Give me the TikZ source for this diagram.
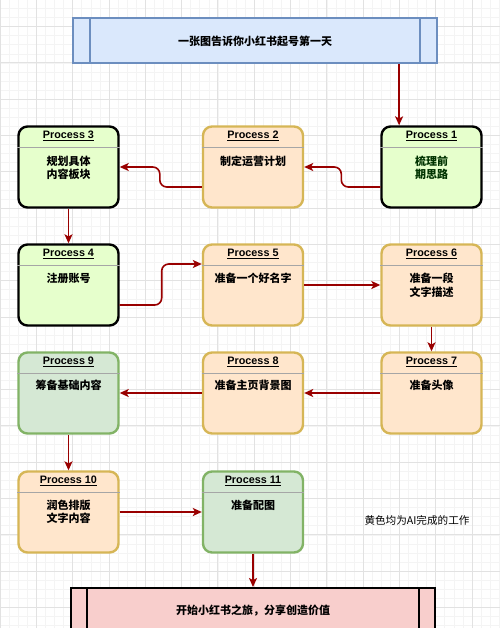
\documentclass[tikz,border=0pt]{standalone}
\usepackage{fontspec}
\setmainfont{Liberation Sans}
\newfontfamily\cjk{Noto Sans CJK SC}
\usetikzlibrary{arrows.meta,calc}
\definecolor{arrred}{HTML}{990000}
\definecolor{gfill}{HTML}{E6FFCC}
\definecolor{ofill}{HTML}{FFE6CC}
\definecolor{odraw}{HTML}{D6B656}
\definecolor{sfill}{HTML}{D5E8D4}
\definecolor{sdraw}{HTML}{82B366}
\definecolor{bfill}{HTML}{DAE8FC}
\definecolor{bdraw}{HTML}{6C8EBF}
\definecolor{pfill}{HTML}{F8CECC}
\definecolor{gridmaj}{HTML}{E2E2E2}
\definecolor{gridmin}{HTML}{F4F4F4}
\tikzset{
  pbox/.style={rounded corners=9pt, line width=2.4pt, minimum width=100pt, minimum height=81pt, inner sep=0pt},
  greenbox/.style={pbox, fill=gfill, draw=black},
  orangebox/.style={pbox, fill=ofill, draw=odraw},
  sagebox/.style={pbox, fill=sfill, draw=sdraw},
  head/.style={font=\bfseries\fontsize{10.8}{13}\selectfont, inner sep=0pt},
  body/.style={font=\cjk\bfseries\fontsize{11}{13.5}\selectfont, align=center, inner sep=0pt},
  divider/.style={draw=gray!70, line width=0.6pt},
  arr/.style={draw=arrred, line width=1.6pt, rounded corners=7pt, -{Stealth[length=9pt,width=8pt,inset=2.2pt]}},
  banner/.style={minimum width=364pt, minimum height=45pt, inner sep=0pt, line width=1.8pt},
}
\begin{document}
\begin{tikzpicture}[x=1pt,y=-1pt]
\clip (0,0) rectangle (500,628);
\fill[white] (0,0) rectangle (500,628);
% grid
\foreach \i in {0,...,55} \draw[gridmin, line width=0.4pt] (\i*9.075,0) -- (\i*9.075,628);
\foreach \j in {-3,...,68} \draw[gridmin, line width=0.4pt] (0,26.5+\j*9.075) -- (500,26.5+\j*9.075);
\foreach \i in {0,...,13} \draw[gridmaj, line width=0.8pt] (\i*36.3,0) -- (\i*36.3,628);
\foreach \j in {-1,...,17} \draw[gridmaj, line width=0.8pt] (0,26.5+\j*36.3) -- (500,26.5+\j*36.3);

% top banner
\node[banner, fill=bfill, draw=bdraw] (top) at (255,40.5) {};
\draw[bdraw, line width=1.8pt] ($(top.north west)+(18,0)$) -- ($(top.south west)+(18,0)$);
\draw[bdraw, line width=1.8pt] ($(top.north east)+(-18,0)$) -- ($(top.south east)+(-18,0)$);
\node[body] (toptext) at (255,41) {一张图告诉你小红书起号第一天};

% boxes
\node[greenbox] (p3) at (68.5,167) {};
\node[orangebox] (p2) at (253,167) {};
\node[greenbox] (p1) at (431.5,167) {};
\node[greenbox] (p4) at (68.5,285) {};
\node[orangebox] (p5) at (253,285) {};
\node[orangebox] (p6) at (431.5,285) {};
\node[sagebox] (p9) at (68.5,393) {};
\node[orangebox] (p8) at (253,393) {};
\node[orangebox] (p7) at (431.5,393) {};
\node[orangebox] (p10) at (68.5,512) {};
\node[sagebox] (p11) at (253,512) {};

% headers and dividers
\foreach \n/\t in {p1/1,p2/2,p3/3,p4/4,p5/5,p6/6,p7/7,p8/8,p9/9,p10/10,p11/11}{
  \node[head] (h\n) at ($(\n.north)+(0,10.5)$) {\underline{Process \t}};
  \draw[divider] ($(\n.north west)+(0,22)$) -- ($(\n.north east)+(0,22)$);
}

% body texts
\node[body, text=black!80!green] (t1) at ($(p1.north)+(0,42.5)$) {梳理前\\期思路};
\node[body] (t2) at ($(p2.north)+(0,36)$) {制定运营计划};
\node[body] (t3) at ($(p3.north)+(0,42.5)$) {规划具体\\内容板块};
\node[body] (t4) at ($(p4.north)+(0,35)$) {注册账号};
\node[body] (t5) at ($(p5.north)+(0,35)$) {准备一个好名字};
\node[body] (t6) at ($(p6.north)+(0,42)$) {准备一段\\文字描述};
\node[body] (t7) at ($(p7.north)+(0,34)$) {准备头像};
\node[body] (t8) at ($(p8.north)+(0,34)$) {准备主页背景图};
\node[body] (t9) at ($(p9.north)+(0,34)$) {筹备基础内容};
\node[body] (t10) at ($(p10.north)+(0,41.5)$) {润色排版\\文字内容};
\node[body] (t11) at ($(p11.north)+(0,35)$) {准备配图};

% bottom banner
\node[banner, minimum height=60pt, fill=pfill, draw=black, line width=2pt] (bottom) at (253,618) {};
\draw[black, line width=2pt] ($(bottom.north west)+(17,0)$) -- ($(bottom.south west)+(17,0)$);
\draw[black, line width=2pt] ($(bottom.north east)+(-17,0)$) -- ($(bottom.south east)+(-17,0)$);
\node[body] (bottomtext) at (253,611) {开始小红书之旅，分享创造价值};

% note
\node[font=\cjk\fontsize{10.6}{13}\selectfont, inner sep=0pt] (note) at (417,520) {黄色均为AI完成的工作};

% connectors
\coordinate (topout) at ($(top.south west)+(327,0)$);
\draw[arr] (topout) -- (topout |- p1.north);
\draw[arr] ($(p1.west)+(0,20)$) -- ++(-39,0) |- (p2.east);
\draw[arr] ($(p2.west)+(0,20)$) -- ++(-42,0) |- (p3.east);
\draw[arr] (p3.south) -- (p4.north);
\draw[arr] ($(p4.east)+(0,20)$) -- ++(42,0) |- ($(p5.west)+(0,-21)$);
\draw[arr] (p5.east) -- (p6.west);
\draw[arr] (p6.south) -- (p7.north);
\draw[arr] (p7.west) -- (p8.east);
\draw[arr] (p8.west) -- (p9.east);
\draw[arr] (p9.south) -- (p10.north);
\draw[arr] (p10.east) -- (p11.west);
\draw[arr] (p11.south) -- (p11.south |- bottom.north);
\end{tikzpicture}
\end{document}
